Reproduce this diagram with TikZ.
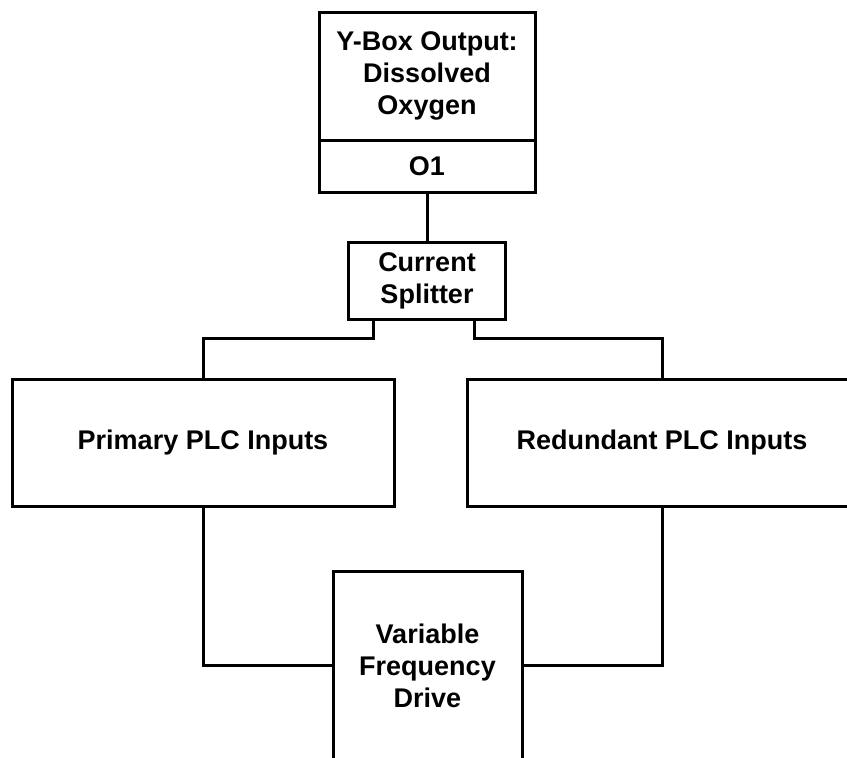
\documentclass[tikz,border=0pt]{standalone}
\usepackage{fontspec}
\setmainfont{Liberation Sans}
\usetikzlibrary{positioning}

\tikzset{
  box/.style={draw, line width=3pt, outer sep=0pt, align=center,
    font=\fontsize{27}{32}\selectfont\bfseries},
  wire/.style={line width=3pt}
}

\begin{document}
\begin{tikzpicture}
\useasboundingbox (0,0) rectangle (847pt,-758pt);
\clip (0,0) rectangle (847pt,-758pt);

% transmitter and its output terminal
\node[box, minimum width=216pt, minimum height=128pt] (ybox) at (427pt,-76pt) {Y-Box Output:\\Dissolved\\Oxygen};
\node[box, minimum width=216pt, minimum height=52pt, below=0pt of ybox] (o1) {O1};
\node[box, minimum width=157pt, minimum height=77pt, below=50pt of o1] (split) {Current\\Splitter};

% the two PLC input cards
\node[box, minimum width=382pt, minimum height=127pt] (prim) at (203pt,-442.5pt) {Primary PLC Inputs};
\node[box, minimum width=390pt, minimum height=127pt, right=73pt of prim] (red) {Redundant PLC Inputs};

\node[box, minimum width=189pt, minimum height=189pt] (vfd) at (427.5pt,-665.5pt) {Variable\\Frequency\\Drive};

\coordinate (splitL) at ([xshift=-53.5pt]split.south);
\coordinate (splitR) at ([xshift=47.5pt]split.south);

\draw[wire] (o1) -- (split);
\draw[wire] (splitL) -- ++(0,-19pt) -| (prim.north);
\draw[wire] (splitR) -- ++(0,-19pt) -| (red.north);
\draw[wire] (prim.south) |- (vfd.west);
\draw[wire] (red.south) |- (vfd.east);
\end{tikzpicture}
\end{document}
